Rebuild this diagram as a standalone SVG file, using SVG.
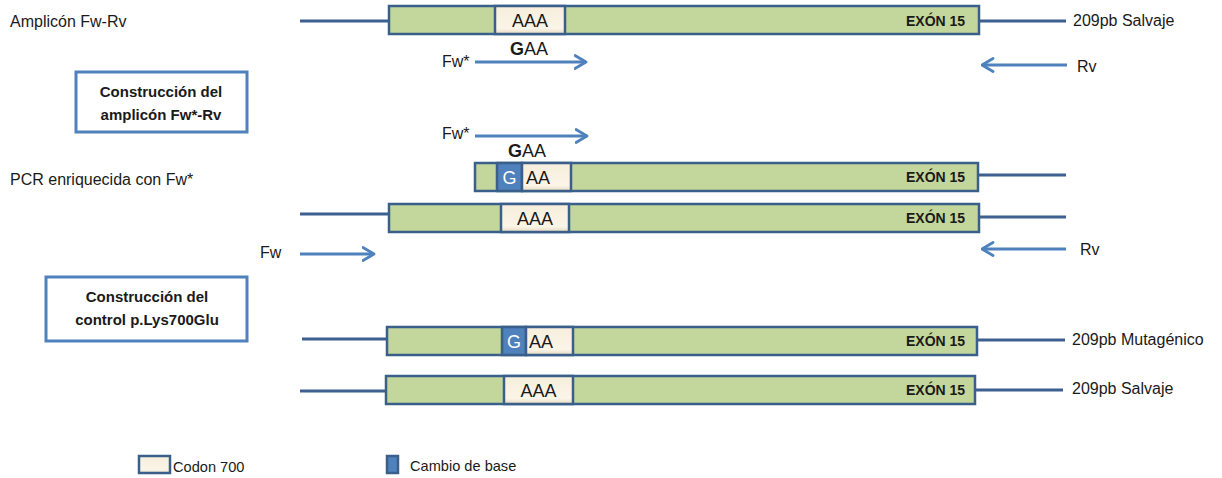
<svg xmlns="http://www.w3.org/2000/svg" width="1222" height="478" viewBox="0 0 1222 478">
<defs>
<linearGradient id="cod" x1="0" y1="0" x2="0" y2="1">
<stop offset="0" stop-color="#f7eedb"/>
<stop offset="0.8" stop-color="#fbf5e8"/>
<stop offset="1" stop-color="#e6dac0"/>
</linearGradient>
<marker id="ah" viewBox="0 0 14 16" refX="12.5" refY="8" markerWidth="14" markerHeight="16" markerUnits="userSpaceOnUse" orient="auto">
<path d="M1.5,1.5 L12.5,8 L1.5,14.5" fill="none" stroke="#4f81bd" stroke-width="2.8" stroke-linecap="round" stroke-linejoin="round"/>
</marker>
<style>
.exon{fill:#c3d69b;stroke:#3a5f8b;stroke-width:2.5}
.codon{fill:url(#cod);stroke:#3a5f8b;stroke-width:2.5}
.gbox{fill:#4f81bd;stroke:#3a5f8b;stroke-width:2.5}
.dna{stroke:#3d6090;stroke-width:3;fill:none}
.arr{stroke:#4f81bd;stroke-width:3;fill:none;marker-end:url(#ah)}
.lbl{font-family:"Liberation Sans",Arial,sans-serif;font-size:16px;fill:#1a1a1a}
.lg{font-family:"Liberation Sans",Arial,sans-serif;font-size:14.6px;fill:#1a1a1a}
.ex{font-family:"Liberation Sans",Arial,sans-serif;font-size:14px;font-weight:bold;fill:#1a1a1a}
.cd{font-family:"Liberation Sans",Arial,sans-serif;font-size:18px;fill:#1a1a1a}
.gw{font-family:"Liberation Sans",Arial,sans-serif;font-size:18px;fill:#ffffff}
.box{fill:#ffffff;stroke:#4f81bd;stroke-width:3}
.bt{font-family:"Liberation Sans",Arial,sans-serif;font-size:15px;font-weight:bold;fill:#1a1a1a;text-anchor:middle}
</style>
</defs>

<g id="connectors">
<line class="dna" x1="300" y1="21" x2="389" y2="21"/>
<line class="dna" x1="979" y1="21" x2="1066" y2="21"/>
<line class="dna" x1="978" y1="175" x2="1066" y2="175"/>
<line class="dna" x1="300" y1="214" x2="389" y2="214"/>
<line class="dna" x1="979" y1="217" x2="1066" y2="217"/>
<line class="dna" x1="302" y1="339" x2="387" y2="339"/>
<line class="dna" x1="977" y1="340" x2="1065" y2="340"/>
<line class="dna" x1="300" y1="391" x2="386" y2="391"/>
<line class="dna" x1="975" y1="390" x2="1063" y2="390"/>
<line class="arr" x1="475" y1="62" x2="586" y2="62"/>
<line class="arr" x1="1067" y1="65" x2="982" y2="65"/>
<line class="arr" x1="475" y1="136" x2="587" y2="136"/>
<line class="arr" x1="300" y1="254" x2="374" y2="254"/>
<line class="arr" x1="1066" y1="249" x2="982" y2="249"/>
</g>

<g id="row1">
<rect class="exon" x="389" y="6" width="590" height="28"/>
<rect class="codon" x="495" y="6" width="70" height="28"/>
<text class="cd" x="530" y="27" text-anchor="middle">AAA</text>
<text class="ex" x="906" y="26">EXÓN 15</text>
<text class="lbl" x="10" y="27">Amplicón Fw-Rv</text>
<text class="lbl" x="1073" y="26">209pb Salvaje</text>
</g>

<g id="primers1">
<text class="cd" x="510" y="55"><tspan font-weight="bold">G</tspan>AA</text>
<text class="lbl" x="442" y="67">Fw*</text>
<text class="lbl" x="1077" y="72">Rv</text>
</g>

<g id="box1">
<rect class="box" x="76" y="72" width="171" height="60"/>
<text class="bt" x="161" y="97">Construcción del</text>
<text class="bt" x="161" y="120">amplicón Fw*-Rv</text>
</g>

<g id="primers2">
<text class="lbl" x="442" y="139">Fw*</text>
<text class="cd" x="508" y="157"><tspan font-weight="bold">G</tspan>AA</text>
</g>

<g id="row2">
<rect class="exon" x="475" y="163" width="503" height="28"/>
<rect class="gbox" x="497" y="163" width="25" height="28"/>
<rect class="codon" x="522" y="163" width="49" height="28"/>
<text class="gw" x="509.5" y="184" text-anchor="middle">G</text>
<text class="cd" x="526" y="184">AA</text>
<text class="ex" x="906" y="182">EXÓN 15</text>
<text class="lbl" x="10" y="185">PCR enriquecida con Fw*</text>
</g>

<g id="row3">
<rect class="exon" x="389" y="204" width="590" height="28"/>
<rect class="codon" x="501" y="204" width="68" height="28"/>
<text class="cd" x="535" y="225" text-anchor="middle">AAA</text>
<text class="ex" x="906" y="223">EXÓN 15</text>
<text class="lbl" x="260" y="258">Fw</text>
<text class="lbl" x="1080" y="255">Rv</text>
</g>

<g id="box2">
<rect class="box" x="46" y="277" width="201" height="64"/>
<text class="bt" x="147" y="302">Construcción del</text>
<text class="bt" x="147" y="325">control p.Lys700Glu</text>
</g>

<g id="row4">
<rect class="exon" x="387" y="327" width="590" height="28"/>
<rect class="gbox" x="502" y="327" width="24" height="28"/>
<rect class="codon" x="526" y="327" width="47" height="28"/>
<text class="gw" x="514" y="348" text-anchor="middle">G</text>
<text class="cd" x="529" y="348">AA</text>
<text class="ex" x="906" y="346">EXÓN 15</text>
<text class="lbl" x="1072" y="345">209pb Mutagénico</text>
</g>

<g id="row5">
<rect class="exon" x="386" y="376" width="589" height="28"/>
<rect class="codon" x="504" y="376" width="69" height="28"/>
<text class="cd" x="538.5" y="397" text-anchor="middle">AAA</text>
<text class="ex" x="906" y="395">EXÓN 15</text>
<text class="lbl" x="1072" y="394">209pb Salvaje</text>
</g>

<g id="legend">
<rect class="codon" x="139" y="456" width="31" height="17"/>
<text class="lg" x="173" y="472">Codon 700</text>
<rect class="gbox" x="387" y="456" width="11" height="17"/>
<text class="lg" x="410" y="471">Cambio de base</text>
</g>
</svg>
